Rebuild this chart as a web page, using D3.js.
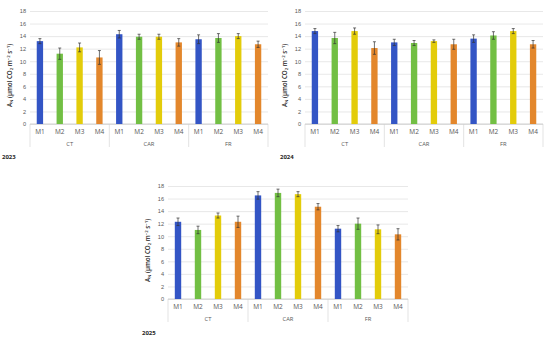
<!DOCTYPE html>
<html>
<head>
<meta charset="utf-8">
<script src="https://cdn.jsdelivr.net/npm/d3@7"></script>
<style>
  body { margin: 0; background: #fff; }
  svg { display: block; font-family: "Open Sans", "Liberation Sans", sans-serif; }
</style>
</head>
<body>
<div id="chart"></div>
<script>
(function(){
  // Net assimilation per management (M1–M4) in three systems, one panel per year.
  const groups = ['CT', 'CAR', 'FR'];
  const treatments = ['M1', 'M2', 'M3', 'M4'];
  const yTicks = [0, 2, 4, 6, 8, 10, 12, 14, 16, 18];
  const colors = ['#3355c5', '#72bf44', '#e3cc0a', '#e3872c'];

  // Values are read group by group: CT M1..M4, CAR M1..M4, FR M1..M4.
  const values2023 = [13.2, 11.2, 12.2, 10.6, 14.3, 13.9, 13.9, 13.0, 13.5, 13.7, 14.0, 12.7];
  const errors2023 = [0.4, 0.9, 0.7, 1.1, 0.6, 0.4, 0.4, 0.6, 0.7, 0.7, 0.4, 0.5];
  const values2024 = [14.8, 13.7, 14.8, 12.1, 13.0, 12.9, 13.2, 12.7, 13.6, 14.1, 14.8, 12.7];
  const errors2024 = [0.4, 0.9, 0.5, 1.0, 0.5, 0.4, 0.2, 0.8, 0.6, 0.6, 0.4, 0.6];
  const values2025 = [12.3, 11.0, 13.3, 12.3, 16.5, 16.9, 16.7, 14.7, 11.2, 12.0, 11.1, 10.3];
  const errors2025 = [0.6, 0.6, 0.4, 0.9, 0.6, 0.6, 0.4, 0.5, 0.5, 0.9, 0.7, 0.9];

  const panels = [
    {year: '2023', values: values2023, errors: errors2023, ox: 0, oy: 0, left: 30, right: 268, top: 11, bottom: 124, yearX: 2, yearY: 159},
    {year: '2024', values: values2024, errors: errors2024, ox: 275, oy: 0, left: 30, right: 268, top: 11, bottom: 124, yearX: 5, yearY: 159},
    {year: '2025', values: values2025, errors: errors2025, ox: 130, oy: 170, left: 38, right: 278, top: 16, bottom: 129, yearX: 12, yearY: 165}
  ];

  const width = 550, height = 339;
  const svg = d3.select('#chart').append('svg').attr('width', width).attr('height', height);

  panels.forEach(p => {
    const g = svg.append('g').attr('transform', `translate(${p.ox},${p.oy})`);
    const rows = p.values.map((v, i) => ({
      group: groups[Math.floor(i / 4)],
      treat: treatments[i % 4],
      key: i,
      value: v,
      err: p.errors[i]
    }));

    const x = d3.scaleBand().domain(rows.map(d => d.key)).range([p.left, p.right]);
    const y = d3.scaleLinear().domain([0, 18]).range([p.bottom, p.top]);

    // Gridlines with labels
    const yAxis = g.append('g')
      .attr('transform', `translate(${p.left},0)`)
      .call(d3.axisLeft(y).tickValues(yTicks).tickSize(-(p.right - p.left)).tickPadding(4));
    yAxis.select('.domain').remove();
    yAxis.selectAll('.tick line').attr('stroke', '#d9d9d9').attr('stroke-width', 0.6);
    yAxis.selectAll('.tick text').attr('fill', '#595959').style('font-size', '5.6px');

    // Category baseline
    g.append('line')
      .attr('x1', p.left).attr('x2', p.right)
      .attr('y1', y(0)).attr('y2', y(0))
      .attr('stroke', '#bfbfbf').attr('stroke-width', 0.7);

    const barW = x.bandwidth() * 0.32;
    g.selectAll('rect.bar').data(rows).join('rect')
      .attr('class', 'bar')
      .attr('x', d => x(d.key) + (x.bandwidth() - barW) / 2)
      .attr('width', barW)
      .attr('y', d => y(d.value))
      .attr('height', d => y(0) - y(d.value))
      .attr('fill', (d, i) => colors[i % 4]);

    // Error bars
    const cx = d => x(d.key) + x.bandwidth() / 2;
    const eb = g.selectAll('g.err').data(rows).join('g').attr('class', 'err')
      .attr('stroke', '#333').attr('stroke-width', 0.7);
    eb.append('line').attr('x1', cx).attr('x2', cx)
      .attr('y1', d => y(d.value + d.err)).attr('y2', d => y(d.value - d.err));
    eb.append('line').attr('x1', d => cx(d) - 1.5).attr('x2', d => cx(d) + 1.5)
      .attr('y1', d => y(d.value + d.err)).attr('y2', d => y(d.value + d.err));
    eb.append('line').attr('x1', d => cx(d) - 1.5).attr('x2', d => cx(d) + 1.5)
      .attr('y1', d => y(d.value - d.err)).attr('y2', d => y(d.value - d.err));

    // Treatment labels
    g.selectAll('text.treat').data(rows).join('text')
      .attr('class', 'treat')
      .attr('x', cx)
      .attr('y', y(0) + 10)
      .attr('text-anchor', 'middle')
      .attr('fill', '#595959')
      .style('font-size', '6.5px')
      .text(d => d.treat);

    // Group labels and dividers
    const groupW = (p.right - p.left) / groups.length;
    d3.range(groups.length + 1).forEach(i => {
      g.append('line')
        .attr('x1', p.left + i * groupW).attr('x2', p.left + i * groupW)
        .attr('y1', y(0)).attr('y2', y(0) + 23)
        .attr('stroke', '#d0d0d0').attr('stroke-width', 0.6);
    });
    g.selectAll('text.group').data(groups).join('text')
      .attr('class', 'group')
      .attr('x', (d, i) => p.left + (i + 0.5) * groupW)
      .attr('y', y(0) + 22)
      .attr('text-anchor', 'middle')
      .attr('fill', '#595959')
      .style('font-size', '5.8px')
      .text(d => d);

    // Y title
    const ty = g.append('text')
      .attr('transform', `translate(${p.left - 18},${(p.top + p.bottom) / 2 + 8}) rotate(-90)`)
      .attr('text-anchor', 'middle')
      .attr('fill', '#262626')
      .style('font-size', '6.2px')
      .style('font-weight', '600');
    ty.append('tspan').text('A');
    ty.append('tspan').attr('dy', 1.3).style('font-size', '4.3px').text('N');
    ty.append('tspan').attr('dy', -1.3).text(' (μmol CO');
    ty.append('tspan').attr('dy', 1.3).style('font-size', '4.3px').text('2');
    ty.append('tspan').attr('dy', -1.3).text(' m');
    ty.append('tspan').attr('dy', -2).style('font-size', '4.3px').text('−2');
    ty.append('tspan').attr('dy', 2).text(' s');
    ty.append('tspan').attr('dy', -2).style('font-size', '4.3px').text('−1');
    ty.append('tspan').attr('dy', 2).text(')');

    g.append('text')
      .attr('x', p.yearX).attr('y', p.yearY)
      .attr('fill', '#262626')
      .style('font-size', '6px')
      .style('font-weight', 'bold')
      .text(p.year);
  });
})();
</script>
</body>
</html>
